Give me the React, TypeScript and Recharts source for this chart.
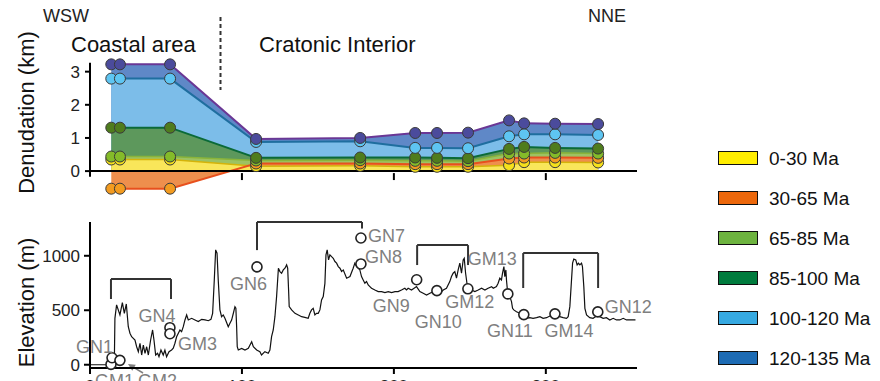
import React from 'react';
import { ComposedChart, Area, Line, XAxis, YAxis, ReferenceLine, Scatter } from 'recharts';

const FONT = '"Liberation Sans", Arial, Helvetica, sans-serif';

// ---------- Top panel: cumulative denudation (km) ----------
const sampleKm = [14, 19.7, 52.7, 109.3, 177.8, 214, 228.4, 248.8, 275.8, 285.7, 306.1, 334.4];
const cum0to30 = [0.35, 0.35, 0.35, 0.15, 0.16, 0.13, 0.13, 0.13, 0.18, 0.27, 0.27, 0.26];
const cum30to65 = [-0.53, -0.53, -0.53, 0.23, 0.23, 0.21, 0.21, 0.21, 0.38, 0.41, 0.41, 0.4];
const cum65to85 = [0.44, 0.44, 0.44, 0.32, 0.33, 0.31, 0.31, 0.3, 0.53, 0.53, 0.55, 0.53];
const cum85to100 = [1.31, 1.31, 1.31, 0.4, 0.41, 0.41, 0.4, 0.39, 0.67, 0.73, 0.7, 0.68];
const cum100to120 = [2.79, 2.79, 2.79, 0.88, 0.9, 0.7, 0.7, 0.69, 1.05, 1.11, 1.11, 1.09];
const cum120to135 = [3.22, 3.22, 3.22, 0.97, 1.0, 1.15, 1.15, 1.16, 1.53, 1.44, 1.43, 1.42];

const ageGroups = ['0-30 Ma', '30-65 Ma', '65-85 Ma', '85-100 Ma', '100-120 Ma', '120-135 Ma'];
const seriesKeys = ['a0', 'a30', 'a65', 'a85', 'a100', 'a120'];
const legendColors = ['#ffed00', '#ec670b', '#6db33f', '#007b3d', '#36a9e1', '#1d6bb4'];
const areaFills = ['#f9e65a', '#ee8f4d', '#9dc262', '#5d985c', '#7cbde9', '#5f88c7'];
const lineColors = ['#d4b30a', '#e8501d', '#8ab43a', '#0b6a38', '#1f6e9f', '#6a3795'];
const dotColors = ['#f6e11b', '#f39b20', '#84bb29', '#4f7c1d', '#5ec5f2', '#4b4b9c'];

const denudationTicks = [0, 1, 2, 3];
const distanceTicks = [0, 100, 200, 300];

const denudationData = sampleKm.map((km, i) => ({
  km,
  a0: cum0to30[i],
  a30: cum30to65[i],
  a65: cum65to85[i],
  a85: cum85to100[i],
  a100: cum100to120[i],
  a120: cum120to135[i],
}));

// ---------- Bottom panel: elevation profile (m) ----------
const profileKm = [
  0, 5, 10, 15, 16, 16.4, 17.5, 19.7, 21.3, 22.6, 23.9, 25.2, 26.3, 27.4, 29.6, 30.7, 31.8, 32.9, 34, 35.1,
  36.2, 37.3, 38.4, 39.9, 41.2, 42.1, 43.2, 44.5, 45.4, 46.7, 48.2, 49.3, 50.4, 52, 53.7, 54.8, 55.9, 57, 59.2, 60.3,
  61.4, 62.5, 63.6, 64.7, 66.9, 69.1, 71.3, 73.5, 75.7, 77.9, 79.6, 80.7, 81.8, 82.7, 83.6, 84.4, 85.5, 86.6, 87.7, 88.8,
  91, 92.1, 93.2, 94.3, 95.4, 96, 96.5, 96.9, 97.6, 99.8, 102, 104.2, 106.4, 107.5, 109.7, 111.8, 112.9, 115.1, 117.3, 118.4,
  119.5, 120.6, 121.7, 122.8, 124, 125, 126.1, 127.2, 128.3, 129.4, 130.1, 130.7, 131.1, 132.7, 134.9, 137.1, 139.3, 141.4, 143.6, 144.7,
  145.8, 146.9, 148, 149.1, 150.2, 151.3, 152.4, 153.5, 154.6, 155.3, 156.1, 157, 157.9, 159, 160.1, 161.2, 162.3, 163.4, 164.5, 165.6,
  166.7, 168.9, 171.1, 173.2, 174.3, 175.5, 177.6, 178.7, 179.8, 180.9, 182, 183.1, 184.2, 185.3, 187.5, 189.7, 191.9, 194.1, 196.3, 198.5,
  200.7, 202.8, 205, 207.2, 208.3, 209.4, 211.6, 214.9, 217.1, 219.3, 221.5, 223.7, 225.9, 228.1, 230.3, 232.5, 234.6, 236.8, 237.9, 239,
  240.1, 241.2, 242.3, 243.4, 244.5, 245.6, 246.3, 247.2, 247.8, 248.5, 251.1, 253.3, 255.5, 257.7, 259.9, 262, 264.3, 265.4, 267.5, 268.6,
  269.7, 270.8, 271.5, 272.4, 273, 273.7, 274.1, 274.8, 276.3, 277.4, 278.1, 278.9, 280.7, 282.9, 285.1, 287.3, 289.5, 291.6, 293.9, 296.1,
  298.2, 300.5, 302.6, 305.9, 309.2, 311.4, 313.6, 314.7, 315.8, 316.9, 317.6, 318.4, 319.7, 320.6, 321.5, 322.4, 323.5, 324.1, 325, 325.7,
  326.8, 328.9, 331.1, 333.3, 335.5, 337.7, 339.9, 342.1, 344.3, 346.5, 348.7, 350.9, 353.1, 355.3, 357.5, 359,
];
const profileElev = [
  0, 0, 0, 2, 10, 426, 549, 457, 570, 472, 558, 349, 289, 257, 227, 165, 120, 197, 89, 181,
  105, 165, 89, 227, 319, 227, 89, 105, 74, 135, 89, 135, 74, 120, 135, 151, 197, 257, 319, 303,
  349, 411, 457, 411, 426, 411, 396, 417, 411, 404, 417, 472, 778, 1054, 1024, 778, 503, 441, 457, 427,
  349, 380, 410, 470, 533, 520, 350, 165, 135, 150, 135, 150, 211, 165, 135, 120, 89, 120, 105, 135,
  257, 319, 441, 625, 886, 855, 840, 870, 886, 916, 886, 686, 533, 503, 472, 457, 441, 435, 427, 472,
  503, 518, 457, 472, 472, 503, 595, 625, 747, 1008, 1054, 962, 1008, 992, 977, 947, 932, 901, 886, 855,
  870, 794, 809, 886, 932, 901, 870, 809, 778, 748, 763, 732, 717, 702, 686, 671, 671, 662, 671, 662,
  671, 671, 686, 702, 686, 702, 686, 717, 671, 656, 640, 656, 671, 671, 656, 686, 702, 763, 809, 840,
  855, 794, 870, 932, 840, 962, 977, 840, 778, 702, 686, 671, 686, 702, 686, 702, 717, 702, 717, 748,
  794, 778, 840, 901, 809, 870, 778, 671, 625, 579, 518, 503, 487, 472, 448, 426, 432, 426, 432, 441,
  426, 432, 447, 447, 441, 432, 426, 441, 533, 778, 932, 969, 962, 916, 932, 916, 932, 901, 717, 518,
  457, 432, 426, 447, 441, 426, 432, 411, 426, 411, 411, 426, 411, 411, 411, 411,
];
const profileData = profileKm.map((km, i) => ({ km, elev: profileElev[i] }));

const sampleNames = ['GM1', 'GN1', 'GM2', 'GN4', 'GM3', 'GN6', 'GN7', 'GN8', 'GN9', 'GN10', 'GM12', 'GM13', 'GN11', 'GM14', 'GN12'];
const sampleSiteKm = [13.8, 14.5, 19.7, 52.6, 52.6, 109.9, 178.3, 178.3, 215, 228.3, 248.7, 275, 285.5, 306, 334.2];
const sampleElev = [3, 64, 40, 340, 285, 898, 1163, 925, 780, 680, 697, 650, 460, 467, 485];
const sampleData = sampleNames.map((name, i) => ({ name, km: sampleSiteKm[i], elev: sampleElev[i] }));

const elevationTicks = [0, 500, 1000];

// Sample group brackets (km, m)
const bracketFromKm = [13.8, 109.9, 215.3, 285.1];
const bracketToKm = [53.3, 179, 248.8, 334.4];
const bracketTopElev = [786, 1310, 1098, 1025];
const bracketLeftEndElev = [603, 1052, 915, 704];
const bracketRightEndElev = [603, 1250, 915, 704];

// label placement (pixels relative to the marker)
const labelPlacement: Record<string, [number, number, string]> = {
  GM1: [-16, 23, 'start'],
  GN1: [1, -5, 'end'],
  GM2: [18, 27, 'start'],
  GN4: [-13, -6, 'middle'],
  GM3: [8, 16, 'start'],
  GN6: [-8.5, 23, 'middle'],
  GN7: [7, 4, 'start'],
  GN8: [4, -1, 'start'],
  GN9: [-25.5, 32, 'middle'],
  GN10: [1.5, 37, 'middle'],
  GM12: [2, 19, 'middle'],
  GM13: [-15.5, -29, 'middle'],
  GN11: [-14, 22, 'middle'],
  GM14: [14, 23, 'middle'],
  GN12: [7, 1, 'start'],
};

const SampleMarker = (props: any) => {
  const { cx, cy, payload } = props;
  if (cx == null || cy == null) return null;
  const p = labelPlacement[payload.name] || [6, 0, 'start'];
  return (
    <g>
      <circle cx={cx} cy={cy} r={5} fill="#fff" stroke="#222" strokeWidth={1.6} />
      <text x={cx + p[0]} y={cy + p[1]} textAnchor={p[2] as any} fill="#7f7f7f" fontSize={18} fontFamily={FONT}>
        {payload.name}
      </text>
    </g>
  );
};

const ArrowShape = (props: any) => {
  const { x1, y1, x2, y2 } = props;
  if ([x1, y1, x2, y2].some((v) => v == null || isNaN(v))) return null;
  const ang = Math.atan2(y2 - y1, x2 - x1);
  const L = 7;
  const W = 3.5;
  const bx = x2 - L * Math.cos(ang);
  const by = y2 - L * Math.sin(ang);
  const px = -Math.sin(ang) * W;
  const py = Math.cos(ang) * W;
  return (
    <g>
      <line x1={x1} y1={y1} x2={bx} y2={by} stroke="#7f7f7f" strokeWidth={1.5} />
      <polygon points={`${x2},${y2} ${bx + px},${by + py} ${bx - px},${by - py}`} fill="#7f7f7f" />
    </g>
  );
};

const drawOrder = [5, 4, 3, 2, 1, 0];
const dotOrder = [0, 1, 2, 3, 4, 5];

export default function App() {
  return (
    <div
      style={{
        position: 'absolute',
        left: 0,
        top: 0,
        width: 880,
        height: 381,
        overflow: 'hidden',
        background: '#fff',
        fontFamily: FONT,
      }}
    >
      {/* Top panel */}
      <div style={{ position: 'absolute', left: 0, top: 0 }}>
        <ComposedChart
          width={880}
          height={200}
          data={denudationData}
          margin={{ top: 62.7, right: 243, bottom: 9, left: 50 }}
        >
          <XAxis dataKey="km" type="number" domain={[0, 360]} hide />
          <YAxis
            type="number"
            domain={[-0.6, 3.27]}
            ticks={denudationTicks}
            interval={0}
            width={40}
            axisLine={false}
            tickLine={{ stroke: '#000', strokeWidth: 2 }}
            tickSize={5}
            tickMargin={5}
            tick={{ fill: '#222', fontSize: 17 }}
          />
          {drawOrder.map((i) => (
            <Area
              key={'area' + i}
              type="linear"
              dataKey={seriesKeys[i]}
              stroke="none"
              fill={areaFills[i]}
              fillOpacity={1}
              baseValue={0}
              dot={false}
              activeDot={false}
              isAnimationActive={false}
            />
          ))}
          {dotOrder.map((i) => (
            <Line
              key={'line' + i}
              type="linear"
              dataKey={seriesKeys[i]}
              stroke={lineColors[i]}
              strokeWidth={i === 2 || i === 0 ? 1.5 : 2}
              dot={false}
              activeDot={false}
              isAnimationActive={false}
            />
          ))}
          <ReferenceLine y={0} stroke="#000" strokeWidth={2} />
          <ReferenceLine
            segment={[{ x: 0, y: -0.17 }, { x: 0, y: 3.27 }]}
            stroke="#000"
            strokeWidth={2}
            ifOverflow="visible"
          />
          {distanceTicks
            .filter((t) => t > 0)
            .map((t) => (
              <ReferenceLine
                key={'xt' + t}
                segment={[{ x: t, y: -0.06 }, { x: t, y: -0.27 }]}
                stroke="#000"
                strokeWidth={2}
                ifOverflow="visible"
              />
            ))}
          {dotOrder.map((i) => (
            <Line
              key={'dots' + i}
              type="linear"
              dataKey={seriesKeys[i]}
              stroke="none"
              dot={{ r: 5.5, fill: dotColors[i], stroke: '#3a3a3a', strokeWidth: 1, fillOpacity: 1 }}
              activeDot={false}
              isAnimationActive={false}
            />
          ))}
        </ComposedChart>
      </div>

      {/* Bottom panel */}
      <div style={{ position: 'absolute', left: 0, top: 200 }}>
        <ComposedChart width={880} height={200} margin={{ top: 22, right: 243, bottom: 0, left: 50 }}>
          <XAxis
            dataKey="km"
            type="number"
            domain={[0, 360]}
            ticks={distanceTicks}
            interval={0}
            height={32}
            axisLine={{ stroke: '#000', strokeWidth: 2 }}
            tickLine={{ stroke: '#000', strokeWidth: 2 }}
            tickSize={6}
            tickMargin={6}
            tick={{ fill: '#222', fontSize: 17 }}
          />
          <YAxis
            type="number"
            domain={[-30, 1310]}
            ticks={elevationTicks}
            interval={0}
            width={40}
            axisLine={{ stroke: '#000', strokeWidth: 2 }}
            tickLine={{ stroke: '#000', strokeWidth: 2 }}
            tickSize={6}
            tickMargin={4}
            tick={{ fill: '#222', fontSize: 17 }}
          />
          <Line
            data={profileData}
            type="linear"
            dataKey="elev"
            stroke="#111"
            strokeWidth={1.2}
            dot={false}
            activeDot={false}
            isAnimationActive={false}
          />
          {bracketFromKm.map((from, i) => (
            <ReferenceLine
              key={'bt' + i}
              segment={[{ x: from, y: bracketTopElev[i] }, { x: bracketToKm[i], y: bracketTopElev[i] }]}
              stroke="#333"
              strokeWidth={2}
              ifOverflow="visible"
            />
          ))}
          {bracketFromKm.map((from, i) => (
            <ReferenceLine
              key={'bl' + i}
              segment={[{ x: from, y: bracketTopElev[i] }, { x: from, y: bracketLeftEndElev[i] }]}
              stroke="#333"
              strokeWidth={2}
              ifOverflow="visible"
            />
          ))}
          {bracketToKm.map((to, i) => (
            <ReferenceLine
              key={'br' + i}
              segment={[{ x: to, y: bracketTopElev[i] }, { x: to, y: bracketRightEndElev[i] }]}
              stroke="#333"
              strokeWidth={2}
              ifOverflow="visible"
            />
          ))}
          <ReferenceLine
            segment={[{ x: 34.9, y: -76 }, { x: 25, y: 6 }]}
            ifOverflow="visible"
            shape={ArrowShape}
          />
          <Scatter
            data={sampleData}
            dataKey="elev"
            shape={SampleMarker}
            isAnimationActive={false}
          />
        </ComposedChart>
      </div>

      {/* Annotations */}
      <svg
        width={880}
        height={381}
        style={{ position: 'absolute', left: 0, top: 0, pointerEvents: 'none' }}
        fontFamily={FONT}
      >
        <text x={43} y={21.5} fontSize={18} fill="#222">WSW</text>
        <text x={588} y={21.5} fontSize={18} fill="#222">NNE</text>
        <text x={71} y={52} fontSize={22} fill="#111">Coastal area</text>
        <text x={259} y={52} fontSize={22} fill="#111">Cratonic Interior</text>
        <line x1={220.5} y1={17} x2={220.5} y2={90} stroke="#333" strokeWidth={2} strokeDasharray="4 3" />
        <text
          x={26}
          y={112.5}
          fontSize={22}
          fill="#111"
          textAnchor="middle"
          dominantBaseline="central"
          transform="rotate(-90 26 112.5)"
        >
          Denudation (km)
        </text>
        <text
          x={26}
          y={302.5}
          fontSize={22}
          fill="#111"
          textAnchor="middle"
          dominantBaseline="central"
          transform="rotate(-90 26 302.5)"
        >
          Elevation (m)
        </text>
      </svg>

      {/* Legend */}
      {ageGroups.map((label, i) => (
        <div
          key={label}
          style={{
            position: 'absolute',
            left: 718,
            top: 147.7 + i * 40,
            height: 21,
            display: 'flex',
            alignItems: 'center',
          }}
        >
          <div
            style={{
              width: 40,
              height: 13.5,
              boxSizing: 'border-box',
              border: '1.5px solid #111',
              background: legendColors[i],
            }}
          />
          <span style={{ marginLeft: 11, fontSize: 19, lineHeight: '21px', color: '#111', whiteSpace: 'nowrap' }}>
            {label}
          </span>
        </div>
      ))}
    </div>
  );
}
